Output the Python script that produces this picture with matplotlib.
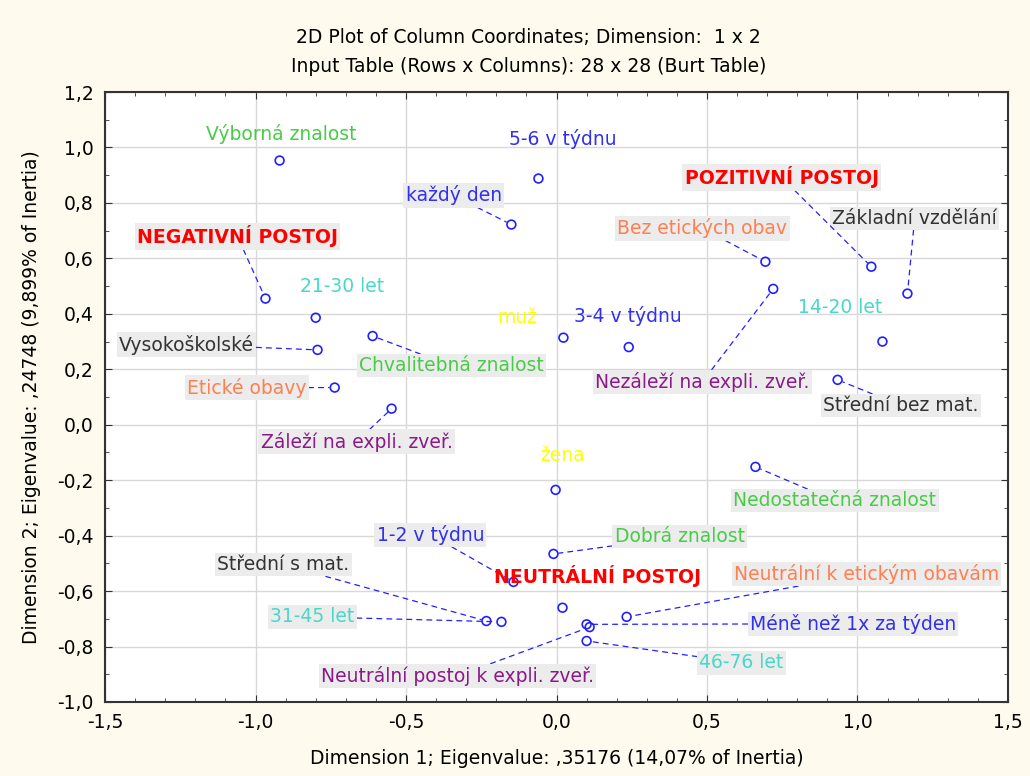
import numpy as np
import matplotlib
matplotlib.use("Agg")
import matplotlib.pyplot as plt
from matplotlib.ticker import MultipleLocator, FuncFormatter

plt.rcParams['font.family'] = ['DejaVu Sans']

# Column coordinates (Dimension 1, Dimension 2)
labels = [
    "Výborná znalost", "Chvalitebná znalost", "Dobrá znalost", "Nedostatečná znalost",
    "muž", "žena",
    "14-20 let", "21-30 let", "31-45 let", "46-76 let",
    "Základní vzdělání", "Střední bez mat.", "Střední s mat.", "Vysokoškolské",
    "každý den", "5-6 v týdnu", "3-4 v týdnu", "1-2 v týdnu", "Méně než 1x za týden",
    "Bez etických obav", "Etické obavy", "Neutrální k etickým obavám",
    "Záleží na expli. zveř.", "Nezáleží na expli. zveř.", "Neutrální postoj k expli. zveř.",
    "NEGATIVNÍ POSTOJ", "POZITIVNÍ POSTOJ", "NEUTRÁLNÍ POSTOJ",
]
dim1 = [-0.92, -0.611, -0.01, 0.661,
        0.023, -0.003,
        1.083, -0.80, -0.183, 0.10,
        1.166, 0.934, -0.233, -0.794,
        -0.15, -0.06, 0.24, -0.143, 0.10,
        0.694, -0.737, 0.233,
        -0.548, 0.72, 0.11,
        -0.967, 1.046, 0.02]
dim2 = [0.953, 0.32, -0.466, -0.152,
        0.314, -0.235,
        0.30, 0.386, -0.711, -0.78,
        0.473, 0.162, -0.708, 0.27,
        0.722, 0.888, 0.28, -0.567, -0.72,
        0.588, 0.134, -0.693,
        0.058, 0.49, -0.73,
        0.455, 0.57, -0.66]
groups = ["know"] * 4 + ["sex"] * 2 + ["age"] * 4 + ["edu"] * 4 + ["freq"] * 5 \
    + ["eth"] * 3 + ["expl"] * 3 + ["att"] * 3

# label placement (layout only)
label_xy = [
    (-0.914, 1.047), (-0.349, 0.213), (0.409, -0.404), (0.925, -0.274),
    (-0.13, 0.388), (0.02, -0.112),
    (0.944, 0.422), (-0.714, 0.498), (-0.811, -0.693), (0.615, -0.859),
    (1.19, 0.744), (1.145, 0.069), (-0.907, -0.505), (-1.229, 0.289),
    (-0.342, 0.827), (0.02, 1.032), (0.236, 0.392), (-0.419, -0.397), (0.985, -0.718),
    (0.485, 0.708), (-1.03, 0.134), (1.03, -0.538),
    (-0.664, -0.061), (0.485, 0.155), (-0.329, -0.906),
    (-1.060, 0.679), (0.748, 0.892), (0.136, -0.545),
]
no_leader = {"Výborná znalost", "5-6 v týdnu", "21-30 let", "muž", "3-4 v týdnu",
             "14-20 let", "žena", "NEUTRÁLNÍ POSTOJ"}
colors = {"know": "#48cc48", "sex": "#ffff00", "age": "#48d8c8", "edu": "#333333",
          "freq": "#3030ee", "eth": "#ff7f50", "expl": "#8b1a89", "att": "#ff0000"}

fig = plt.figure(figsize=(10.3, 7.76), dpi=100, facecolor="#fefaee")
ax = fig.add_axes([0.102, 0.0954, 0.8766, 0.786])
ax.set_facecolor("white")

ax.scatter(dim1, dim2, s=40, facecolors="none", edgecolors="#2020ff",
           linewidths=1.2, zorder=4)

for name, g, x, y, (tx, ty) in zip(labels, groups, dim1, dim2, label_xy):
    bold = g == "att"
    kw = dict(ha="center", va="center", fontsize=13.6 if bold else 13.5, color=colors[g],
              fontweight="bold" if bold else "normal", zorder=5)
    if name in no_leader:
        ax.text(tx, ty, name, **kw)
    else:
        ax.annotate(name, xy=(x, y), xytext=(tx, ty),
                    bbox=dict(boxstyle="square,pad=0.12", fc="#ececec", ec="none"),
                    arrowprops=dict(arrowstyle="-", color="#2020ff", lw=0.9,
                                    linestyle=(0, (4, 4)), shrinkA=0, shrinkB=4),
                    **kw)

ax.set_xlim(-1.5, 1.5)
ax.set_ylim(-1.0, 1.2)
ax.xaxis.set_major_locator(MultipleLocator(0.5))
ax.xaxis.set_minor_locator(MultipleLocator(0.1))
ax.yaxis.set_major_locator(MultipleLocator(0.2))
ax.yaxis.set_minor_locator(MultipleLocator(0.1))
fmt = FuncFormatter(lambda v, p: f"{v:.1f}".replace(".", ",").replace("-0,0", "0,0"))
ax.xaxis.set_major_formatter(fmt)
ax.yaxis.set_major_formatter(fmt)
ax.tick_params(which="both", direction="in", top=True, right=True, color="#333333")
ax.tick_params(which="major", length=5, labelsize=13.5, pad=8)
ax.tick_params(which="minor", length=3)
ax.grid(True, which="major", color="#d8d8d8", lw=1.0)
ax.set_axisbelow(True)
for sp in ax.spines.values():
    sp.set_color("#333333")
    sp.set_linewidth(1.5)

ax.set_xlabel("Dimension 1; Eigenvalue: ,35176 (14,07% of Inertia)", fontsize=13.5, labelpad=12)
ax.set_ylabel("Dimension 2; Eigenvalue: ,24748 (9,899% of Inertia)", fontsize=13.5, labelpad=12)

fig.text(0.513, 0.952, "2D Plot of Column Coordinates; Dimension:  1 x 2",
         ha="center", va="center", fontsize=13.5)
fig.text(0.513, 0.914, "Input Table (Rows x Columns): 28 x 28 (Burt Table)",
         ha="center", va="center", fontsize=13.5)

fig.savefig("out.png", dpi=100, facecolor=fig.get_facecolor())
